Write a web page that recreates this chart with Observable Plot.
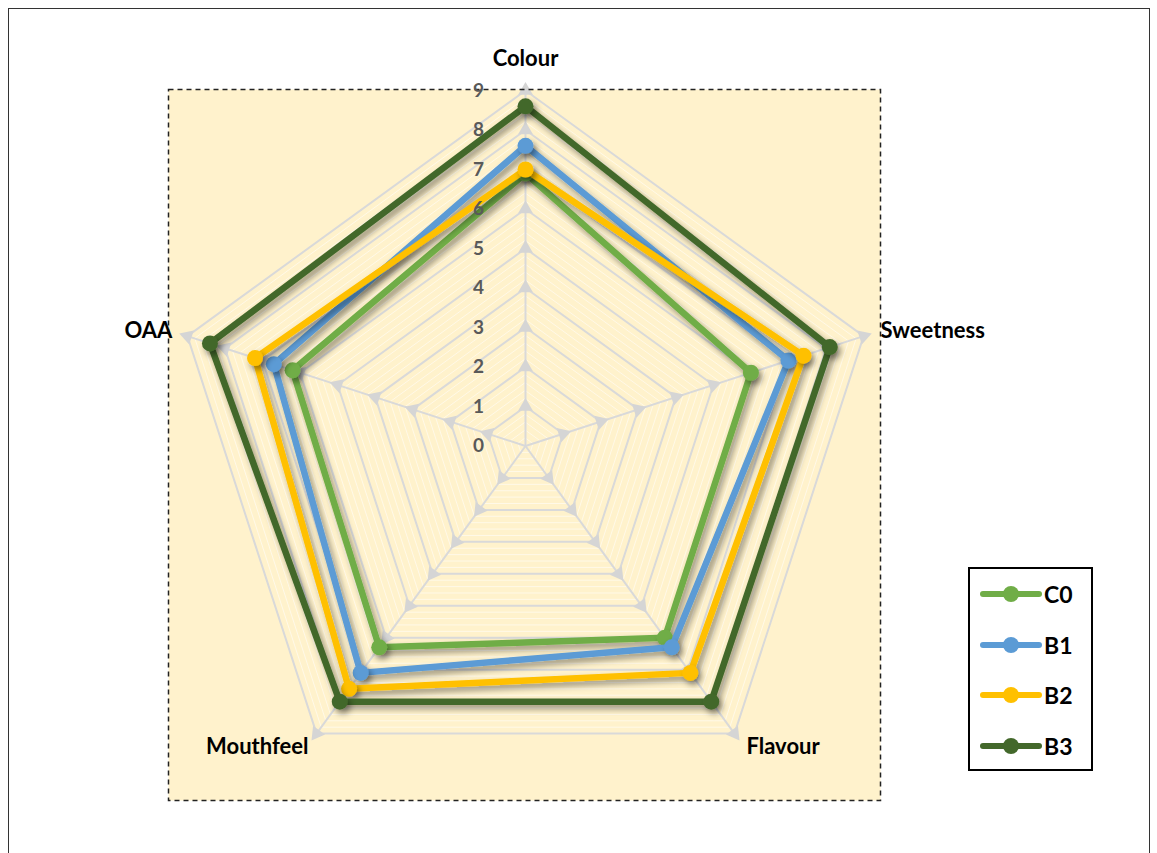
<!DOCTYPE html>
<html><head><meta charset="utf-8">
<script src="https://cdn.jsdelivr.net/npm/d3@7"></script>
<script src="https://cdn.jsdelivr.net/npm/@observablehq/plot@0.6"></script>
<style>
html,body{margin:0;padding:0;background:#fff;overflow:hidden;width:1157px;height:853px;font-family:Lato,"Open Sans",sans-serif;}
#outer{position:absolute;left:8px;top:8px;width:1142px;height:900px;border:1.5px solid #333;box-sizing:border-box;}
#chart{position:absolute;left:0;top:0;}
#legend{position:absolute;left:968px;top:567px;width:125px;height:204px;border:2px solid #000;box-sizing:border-box;background:#fff;}
.row{position:absolute;left:10px;height:30px;display:flex;align-items:center;font-weight:bold;font-size:23px;color:#000;}
.row svg{display:block;margin-right:2px;}
</style></head><body>
<div id="outer"></div>
<div id="chart"></div>
<div id="legend"></div>
<script>
// ---- data ----
const axes = ["Colour", "Sweetness", "Flavour", "Mouthfeel", "OAA"];
const seriesNames = ["C0", "B1", "B2", "B3"];
const C0 = [6.9, 6.0, 6.0, 6.3, 6.2];
const B1 = [7.6, 7.0, 6.3, 7.1, 6.7];
const B2 = [7.0, 7.4, 7.1, 7.6, 7.2];
const B3 = [8.6, 8.1, 8.0, 8.0, 8.4];
const ticks = [0, 1, 2, 3, 4, 5, 6, 7, 8, 9];
const colors = {C0: "#70AD47", B1: "#5B9BD5", B2: "#FFC000", B3: "#43682B"};

const values = {C0, B1, B2, B3};
const n = axes.length;
const ang = i => i * 2 * Math.PI / n;
const pt = (i, r) => ({x: r * Math.sin(ang(i)), y: r * Math.cos(ang(i))});
const rMax = d3.max(ticks);

// grid rings
const rings = [];
for (const t of ticks.filter(t => t > 0)) axes.forEach((a, i) => rings.push({...pt(i, t), ring: t}));
// faint minor rings
const minor = [];
for (let k = 1; k < rMax * 5; k++) {
  if (k % 5 === 0) continue;
  const t = k / 5;
  axes.forEach((a, i) => minor.push({...pt(i, t), ring: t}));
}
const spokes = axes.map((a, i) => ({x1: 0, y1: 0, x2: pt(i, rMax).x, y2: pt(i, rMax).y}));
const markers = [];
for (const t of ticks.filter(t => t > 0)) axes.forEach((a, i) => markers.push({...pt(i, t), rot: ang(i) * 180 / Math.PI}));

const labelStyle = {
  Colour: {anchor: "middle", dx: 0, dy: -32},
  Sweetness: {anchor: "start", dx: 17, dy: -5},
  Flavour: {anchor: "start", dx: 12, dy: 13},
  Mouthfeel: {anchor: "end", dx: -8, dy: 13},
  OAA: {anchor: "end", dx: -15, dy: -5}
};

const marks = [
  Plot.frame({fill: "#FFF2CC", stroke: "none"}),
  Plot.line(minor, {x: "x", y: "y", z: "ring", curve: "linear-closed", stroke: "#FFF9E8", strokeWidth: 1}),
  Plot.line(rings, {x: "x", y: "y", z: "ring", curve: "linear-closed", stroke: "#D9D9D9", strokeWidth: 2}),
  Plot.link(spokes, {x1: "x1", y1: "y1", x2: "x2", y2: "y2", stroke: "#D9D9D9", strokeWidth: 2}),
  Plot.dot(markers, {x: "x", y: "y", symbol: "triangle", r: 5.5, fill: "#D5D5D5", rotate: "rot"}),
  Plot.frame({stroke: "#222", strokeDasharray: "5,4", strokeWidth: 1.5})
];
for (const s of seriesNames) {
  const pts = values[s].map((v, i) => ({...pt(i, v), s}));
  marks.push(Plot.line(pts, {x: "x", y: "y", curve: "linear-closed", stroke: colors[s], strokeWidth: 6.5}));
  marks.push(Plot.dot(pts, {x: "x", y: "y", r: 8, fill: colors[s]}));
}
marks.push(Plot.text(ticks, {x: d => 0, y: d => d, text: d => String(d), dx: -47, fill: "#595959", fontWeight: "bold", fontSize: 19}));
axes.forEach((a, i) => {
  const st = labelStyle[a];
  marks.push(Plot.text([{...pt(i, rMax), a}], {x: "x", y: "y", text: "a", textAnchor: st.anchor, dx: st.dx, dy: st.dy, fontWeight: "bold", fontSize: 22, fill: "#000"}));
});

const svg = Plot.plot({
  width: 1157, height: 853,
  marginLeft: 168, marginRight: 277, marginTop: 89, marginBottom: 53,
  x: {domain: [-9.038, 8.987], axis: null},
  y: {domain: [-8.975, 9.025], axis: null},
  style: {background: "transparent", fontFamily: "Lato, 'Open Sans', sans-serif"},
  marks
});
// drop shadow on the series marks (identified by their colour)
const ns = "http://www.w3.org/2000/svg";
const defs = document.createElementNS(ns, "defs");
defs.innerHTML = `<filter id="shadow" x="-20%" y="-20%" width="140%" height="140%"><feDropShadow dx="3" dy="4" stdDeviation="3" flood-color="#000" flood-opacity="0.42"/></filter>`;
svg.insertBefore(defs, svg.firstChild);
const cols = Object.values(colors).map(c => c.toLowerCase());
svg.querySelectorAll('g[aria-label="line"], g[aria-label="dot"]').forEach(g => {
  const c = (g.getAttribute("stroke") || g.getAttribute("fill") || "").toLowerCase();
  if (cols.includes(c)) g.setAttribute("filter", "url(#shadow)");
});
document.getElementById("chart").appendChild(svg);

// legend
const legend = document.getElementById("legend");
seriesNames.forEach((s, k) => {
  const row = document.createElement("div");
  row.className = "row";
  row.style.top = (10 + k * 50.5) + "px";
  row.innerHTML = `<svg width="62" height="20"><line x1="3" y1="10" x2="59" y2="10" stroke="${colors[s]}" stroke-width="6" stroke-linecap="round"/><circle cx="31" cy="10" r="8" fill="${colors[s]}"/></svg><span>${s}</span>`;
  legend.appendChild(row);
});
</script>
</body></html>
